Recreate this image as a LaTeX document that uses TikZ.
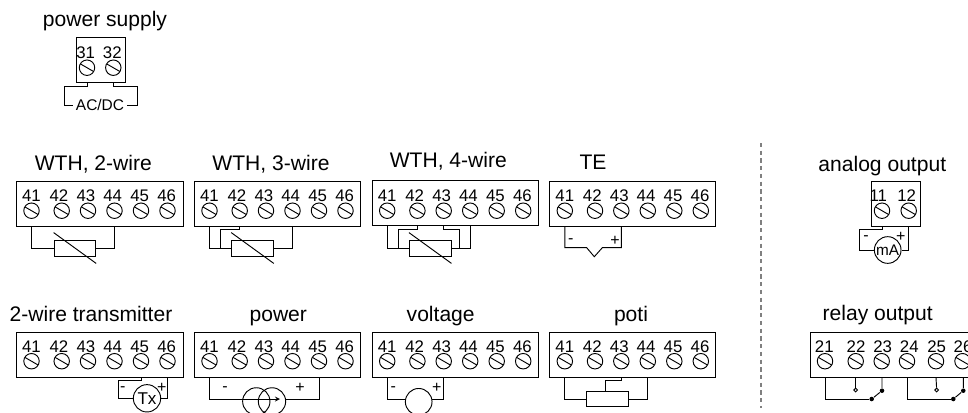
\documentclass[tikz,border=0pt]{standalone}
\usepackage{fontspec}
\setmainfont{Liberation Sans}
\usepackage{tikz}

\tikzset{
  title/.style={anchor=base, inner sep=0pt, font=\fontsize{15.8}{18}\selectfont},
  num/.style={anchor=base, inner sep=0pt, font=\fontsize{12.6}{14}\selectfont},
  sign/.style={inner sep=0pt, font=\fontsize{12}{14}\selectfont},
  termbox/.style={draw, anchor=north west, inner sep=0pt, minimum height=33.75pt},
  screw/.style={draw, circle, inner sep=0pt, minimum size=11.6pt, path picture={
    \draw ([shift={(150:6pt)}]path picture bounding box.center) --
          ([shift={(-30:6pt)}]path picture bounding box.center);}},
  res/.style={draw, inner sep=0pt, minimum width=31.2pt, minimum height=12pt},
  src/.style={draw, circle, inner sep=0pt, minimum size=20pt},
  dot/.style={circle, fill, inner sep=0pt, minimum size=3.4pt},
  tip/.style={draw, circle, inner sep=0pt, fill=white, minimum size=2.8pt},
}

\newcommand{\terminals}[6]{%
  % name, x, y, width, list of terminals, screw height
  \node[termbox, minimum width=#4*0.75pt] (#1) at (#2,#3) {};
  \foreach \n/\sx/\lx in #5 {
    \node[screw] (#1\n) at (#2+\sx,#3+#6) {};
    \node[num] (#1\n t) at (#2+\lx,#3+#6-9) {\n};
  }
}
\newcommand{\listfour}{41/15.5/15.5,42/45.7/43,43/72/70,44/98.5/96.7,45/125/123.7,46/151.5/150.7}
\newcommand{\listrelay}{21/15/14.3,22/45.7/46,23/71.7/72.7,24/97/99.3,25/126/126.7,26/152.5/153}

\begin{document}
\begin{tikzpicture}[x=0.75pt, y=-0.75pt, line width=0.7pt]

  \clip (0,0) rectangle (968,412);

  % power supply
  \node[title] (tps) at (105,26) {power supply};
  \terminals{ps}{75.7}{36.7}{49.3}{{31/11.3/10,32/37.6/36.6}}{31}
  \node[sign, font=\fontsize{11.6}{14}\selectfont] (psl) at (100,105.3) {AC/DC};
  \coordinate (psa) at (64,86);
  \coordinate (psb) at (137.3,86);
  \draw (ps31 |- ps.south) |- (psa) |- ([xshift=-2pt]psl.west);
  \draw (ps32 |- ps.south) |- (psb) |- ([xshift=2pt]psl.east);

  % WTH, 2-wire
  \node[title] (twa) at (93.3,170) {WTH, 2-wire};
  \terminals{wa}{16}{180.7}{166.7}{\listfour}{30}
  \node[res] (wares) at (74.9,248) {};
  \draw ([yshift=5.2pt]wares.north west) -- ([yshift=-5.2pt]wares.south east);
  \draw (wa41 |- wa.south) |- (wares.west);
  \draw (wa44 |- wa.south) |- (wares.east);

  % WTH, 3-wire
  \node[title] (twb) at (271,170) {WTH, 3-wire};
  \terminals{wb}{194}{180.7}{166}{\listfour}{30}
  \node[res] (wbres) at (252.5,248) {};
  \coordinate (wbj) at (220,229.3);
  \draw ([yshift=5.2pt]wbres.north west) -- ([yshift=-5.2pt]wbres.south east);
  \draw (wb41 |- wb.south) |- (wbres.west);
  \draw (wb42 |- wb.south) |- (wbj) |- (wbres.west);
  \draw (wb44 |- wb.south) |- (wbres.east);

  % WTH, 4-wire
  \node[title] (twc) at (448.3,167.7) {WTH, 4-wire};
  \terminals{wc}{371.7}{180}{166}{\listfour}{30.7}
  \node[res] (wcres) at (430.2,248) {};
  \coordinate (wcj) at (398.3,229.3);
  \coordinate (wck) at (459,229.3);
  \draw ([yshift=5.2pt]wcres.north west) -- ([yshift=-5.2pt]wcres.south east);
  \draw (wc41 |- wc.south) |- (wcres.west);
  \draw (wc42 |- wc.south) |- (wcj) |- (wcres.west);
  \draw (wc43 |- wc.south) |- (wck) |- (wcres.east);
  \draw (wc44 |- wc.south) |- (wcres.east);

  % TE
  \node[title] (tte) at (593,169.3) {TE};
  \terminals{te}{549.3}{180.7}{166}{\listfour}{30}
  \coordinate (tea) at (586.7,247.7);
  \coordinate (teb) at (594.3,256.7);
  \coordinate (tec) at (602.3,247.7);
  \draw (te41 |- te.south) |- (tea) -- (teb) -- (tec) -| (te43 |- te.south);
  \node[sign] (tem) at (570.7,241) {-};
  \node[sign] (tep) at (615,241) {+};

  % 2-wire transmitter
  \node[title] (ttx) at (91,321) {2-wire transmitter};
  \terminals{tx}{16}{331.7}{166.7}{\listfour}{29.5}
  \node[src, minimum size=20.5pt, font=\fontsize{12.8}{14}\selectfont] (txs) at (147,398.3) {Tx};
  \coordinate (txj) at (118.3,380);
  \draw (tx45 |- tx.south) |- (txj) |- (txs.west);
  \draw (tx46 |- tx.south) |- (txs.east);
  \node[sign] (txm) at (122.7,389.3) {-};
  \node[sign] (txp) at (161.7,387.7) {+};

  % power
  \node[title] (tpw) at (278.3,321) {power};
  \terminals{pw}{194}{331.7}{166}{\listfour}{29.5}
  \node[src, minimum size=20.5pt] (pwa) at (256.3,401.4) {};
  \node[src, minimum size=20.5pt] (pwb) at (272,401.4) {};
  \coordinate (pwj) at (242.9,399);
  \coordinate (pwk) at (285.4,399);
  \coordinate (pwe) at (280,399);
  \draw (pw41 |- pw.south) |- (pwj);
  \draw (pw45 |- pw.south) |- (pwk);
  \draw[->, >=stealth] (pwj) -- (pwe);
  \node[sign] (pwm) at (225,389.3) {-};
  \node[sign] (pwp) at (300,388) {+};

  % voltage
  \node[title] (tvo) at (440.7,321) {voltage};
  \terminals{vo}{371.7}{331.7}{166}{\listfour}{29.5}
  \node[src] (vos) at (418.7,401.8) {};
  \coordinate (voj) at (405.5,399);
  \coordinate (vok) at (431.9,399);
  \draw (vo41 |- vo.south) |- (voj);
  \draw (vo43 |- vo.south) |- (vok);
  \node[sign] (vom) at (393.3,389.3) {-};
  \node[sign] (vop) at (436.7,388) {+};

  % poti
  \node[title] (tpo) at (631,321) {poti};
  \terminals{po}{549.3}{331.7}{166}{\listfour}{29.5}
  \node[res, minimum height=11.4pt] (pores) at (607.7,399.2) {};
  \coordinate (poj) at (605.7,380.7);
  \draw (po41 |- po.south) |- (pores.west);
  \draw (po43 |- po.south) |- (poj) -- (poj |- pores.north);
  \draw (po44 |- po.south) |- (pores.east);

  % separator
  \draw[gray, line width=1.1pt, dash pattern=on 3.2pt off 2.6pt] (761,143) -- (761,408);

  % analog output
  \node[title] (tao) at (882.3,171) {analog output};
  \terminals{ao}{870.7}{180.7}{49.3}{{11/11.3/7.6,12/38/36}}{30}
  \node[src, font=\fontsize{11.5}{14}\selectfont] (aos) at (887.7,250) {mA};
  \coordinate (aoj) at (859.3,229.3);
  \draw (ao11 |- ao.south) |- (aoj) |- (aos.west);
  \draw (ao12 |- ao.south) |- (aos.east);
  \node[sign] (aom) at (866,238.3) {-};
  \node[sign] (aop) at (900.7,237.3) {+};

  % relay output
  \node[title] (tro) at (877.7,320.7) {relay output};
  \terminals{ro}{810}{331.7}{166}{\listrelay}{29.5}
  \node[dot] (roa) at (871.7,399) {};
  \node[dot] (rob) at (882,390.7) {};
  \node[dot] (roc) at (953.3,399) {};
  \node[dot] (rod) at (963.3,390.7) {};
  \node[tip] (roe) at (855.7,390) {};
  \node[tip] (rof) at (936.7,390) {};
  \draw (ro21 |- ro.south) |- (roa);
  \draw (roa) -- (rob) -- (rob |- ro.south);
  \draw (ro22 |- ro.south) -- (roe);
  \draw (ro24 |- ro.south) |- (roc);
  \draw (roc) -- (rod) -- (rod |- ro.south);
  \draw (ro25 |- ro.south) -- (rof);

\end{tikzpicture}
\end{document}
